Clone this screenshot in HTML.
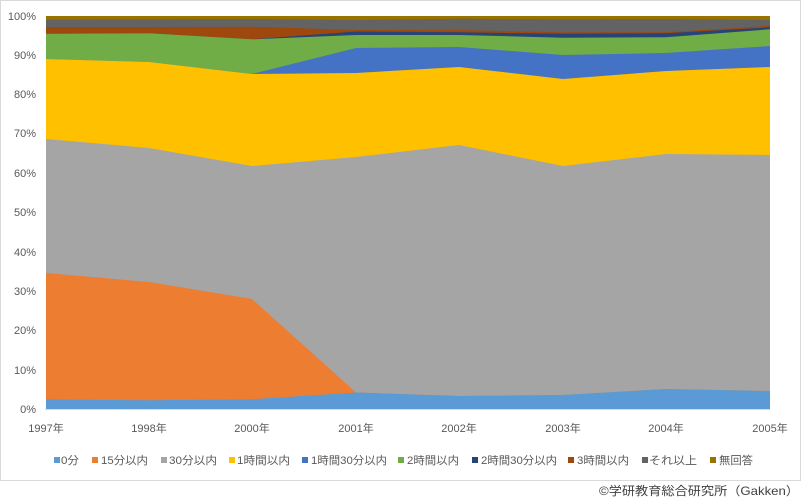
<!DOCTYPE html>
<html><head><meta charset="utf-8"><style>
body{margin:0;background:#fff;}
svg text{font-family:"Liberation Sans","Noto Sans CJK JP",sans-serif;fill:#595959;}
</style></head><body>
<svg width="802" height="498" viewBox="0 0 802 498" xmlns="http://www.w3.org/2000/svg">
<rect x="0.5" y="0.5" width="800" height="480" fill="#fff" stroke="#d9d9d9"/>
<g font-size="11" text-anchor="end">
<text x="36" y="413">0%</text><text x="36" y="374">10%</text><text x="36" y="334">20%</text><text x="36" y="295">30%</text><text x="36" y="256">40%</text><text x="36" y="216">50%</text><text x="36" y="177">60%</text><text x="36" y="137">70%</text><text x="36" y="98">80%</text><text x="36" y="59">90%</text><text x="36" y="20">100%</text>
</g>
<g id="areas"></g>
<line x1="45" y1="409.5" x2="770" y2="409.5" stroke="#d9d9d9"/>
<g font-size="11" text-anchor="middle">
<text x="46" y="432">1997年</text><text x="149" y="432">1998年</text><text x="252" y="432">2000年</text><text x="356" y="432">2001年</text><text x="459" y="432">2002年</text><text x="563" y="432">2003年</text><text x="666" y="432">2004年</text><text x="770" y="432">2005年</text>
</g>
<g font-size="11" lengthAdjust="spacingAndGlyphs">
<rect x="54" y="457" width="6" height="6" fill="#5B9BD5"/><text x="61" y="464" textLength="18" lengthAdjust="spacingAndGlyphs">0分</text>
<rect x="92" y="457" width="6" height="6" fill="#ED7D31"/><text x="101" y="464" textLength="47" lengthAdjust="spacingAndGlyphs">15分以内</text>
<rect x="161" y="457" width="6" height="6" fill="#A5A5A5"/><text x="169" y="464" textLength="48" lengthAdjust="spacingAndGlyphs">30分以内</text>
<rect x="229" y="457" width="6" height="6" fill="#FFC000"/><text x="237" y="464" textLength="53" lengthAdjust="spacingAndGlyphs">1時間以内</text>
<rect x="302" y="457" width="6" height="6" fill="#4472C4"/><text x="311" y="464" textLength="76" lengthAdjust="spacingAndGlyphs">1時間30分以内</text>
<rect x="398" y="457" width="6" height="6" fill="#70AD47"/><text x="407" y="464" textLength="52" lengthAdjust="spacingAndGlyphs">2時間以内</text>
<rect x="472" y="457" width="6" height="6" fill="#264478"/><text x="481" y="464" textLength="76" lengthAdjust="spacingAndGlyphs">2時間30分以内</text>
<rect x="568" y="457" width="6" height="6" fill="#9E480E"/><text x="577" y="464" textLength="52" lengthAdjust="spacingAndGlyphs">3時間以内</text>
<rect x="642" y="457" width="6" height="6" fill="#636363"/><text x="649" y="464" textLength="48" lengthAdjust="spacingAndGlyphs">それ以上</text>
<rect x="710" y="457" width="6" height="6" fill="#997300"/><text x="719" y="464" textLength="34" lengthAdjust="spacingAndGlyphs">無回答</text>
</g>
<text x="799" y="495" font-size="12" text-anchor="end" textLength="200" lengthAdjust="spacingAndGlyphs" style="fill:#404040">©学研教育総合研究所（Gakken）</text>
</svg>
<script>
var xs=[46,149,252,356,459,563,666,770];
var L=[
["#997300",[16,16,16,16,16,16,16,16]],
["#636363",[19.7,19.3,19,20,18.7,19.3,19,20]],
["#9E480E",[27,27,26.7,30,30,32.3,32.3,25.7]],
["#264478",[33.7,33.3,39.3,31.5,32.3,33.7,33.3,27.3]],
["#70AD47",[33.7,33.3,39.3,35,35,37.7,37.3,29.3]],
["#4472C4",[59,62,74,48,47,55,53,46]],
["#FFC000",[59,62,74,73,67,79,71,67]],
["#A5A5A5",[139,148,166,157,145,166,154,155]],
["#ED7D31",[273,282,299,392.5,396,395,389,391]],
["#5B9BD5",[399.3,400.3,399.3,392.5,396,395,389,391]]];
var g=document.getElementById("areas"),s="";
L.forEach(function(l){var p=xs.map(function(x,i){return x+","+l[1][i];}).join(" ");
s+='<polygon fill="'+l[0]+'" points="'+p+' 770,409.5 46,409.5"/>';});
g.innerHTML=s;
</script>
</body></html>
